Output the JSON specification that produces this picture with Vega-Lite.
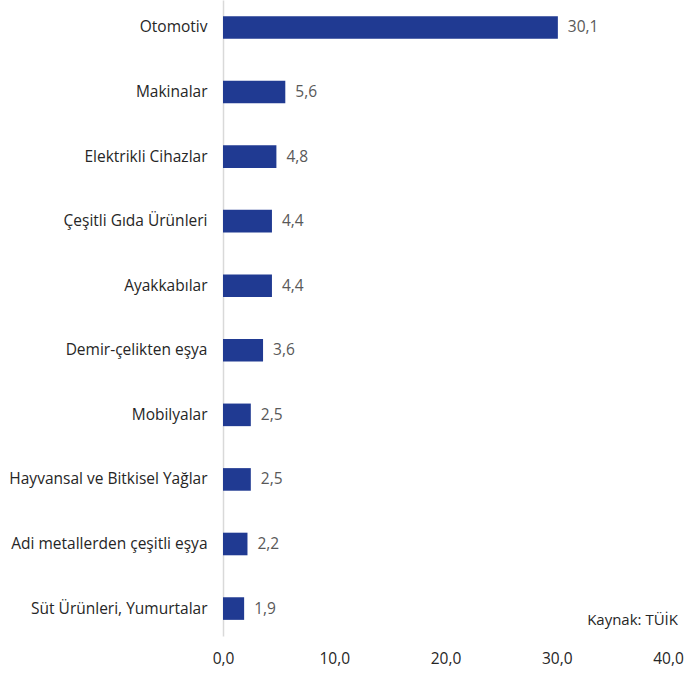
{
  "$schema": "https://vega.github.io/schema/vega-lite/v6.json",
  "width": 445,
  "height": 636,
  "padding": {"left": 8, "top": 0, "right": 19, "bottom": 11},
  "autosize": {"type": "pad"},
  "background": "white",
  "config": {
    "view": {"stroke": null},
    "font": "Open Sans",
    "locale": {"number": {"decimal": ",", "thousands": ".", "grouping": [3], "currency": ["", " TL"]}}
  },
  "data": {
    "values": [
      {"urun": "Otomotiv", "deger": 30.1},
      {"urun": "Makinalar", "deger": 5.6},
      {"urun": "Elektrikli Cihazlar", "deger": 4.8},
      {"urun": "Çeşitli Gıda Ürünleri", "deger": 4.4},
      {"urun": "Ayakkabılar", "deger": 4.4},
      {"urun": "Demir-çelikten eşya", "deger": 3.6},
      {"urun": "Mobilyalar", "deger": 2.5},
      {"urun": "Hayvansal ve Bitkisel Yağlar", "deger": 2.5},
      {"urun": "Adi metallerden çeşitli eşya", "deger": 2.2},
      {"urun": "Süt Ürünleri, Yumurtalar", "deger": 1.9}
    ]
  },
  "encoding": {
    "y": {
      "field": "urun",
      "type": "nominal",
      "sort": null,
      "scale": {"paddingInner": 0.65, "paddingOuter": 0.25},
      "axis": {
        "title": null,
        "ticks": false,
        "domainColor": "#D9D9D9",
        "domainWidth": 1.5,
        "labelFontSize": 15.5,
        "labelColor": "#262626",
        "labelPadding": 16,
        "labelLimit": 300,
        "minExtent": 215,
        "maxExtent": 215
      }
    }
  },
  "layer": [
    {
      "mark": {"type": "bar", "color": "#203A92"},
      "encoding": {
        "x": {
          "field": "deger",
          "type": "quantitative",
          "scale": {"domain": [0, 40], "nice": false},
          "axis": {
            "title": null,
            "values": [0, 10, 20, 30, 40],
            "format": ".1f",
            "grid": false,
            "ticks": false,
            "domain": false,
            "labelFontSize": 15.5,
            "labelColor": "#262626",
            "labelPadding": 15,
            "labelFlush": false
          }
        }
      }
    },
    {
      "mark": {"type": "text", "align": "left", "dx": 10, "fontSize": 15.5, "color": "#595959"},
      "encoding": {
        "x": {"field": "deger", "type": "quantitative"},
        "text": {"field": "deger", "type": "quantitative", "format": ".1f"}
      }
    },
    {
      "data": {"values": [{}]},
      "mark": {"type": "text", "align": "right", "dx": 10, "dy": 11, "fontSize": 15, "color": "#262626", "text": "Kaynak: TÜİK"},
      "encoding": {
        "x": {"datum": 40},
        "y": {"datum": "Süt Ürünleri, Yumurtalar"}
      }
    }
  ]
}
